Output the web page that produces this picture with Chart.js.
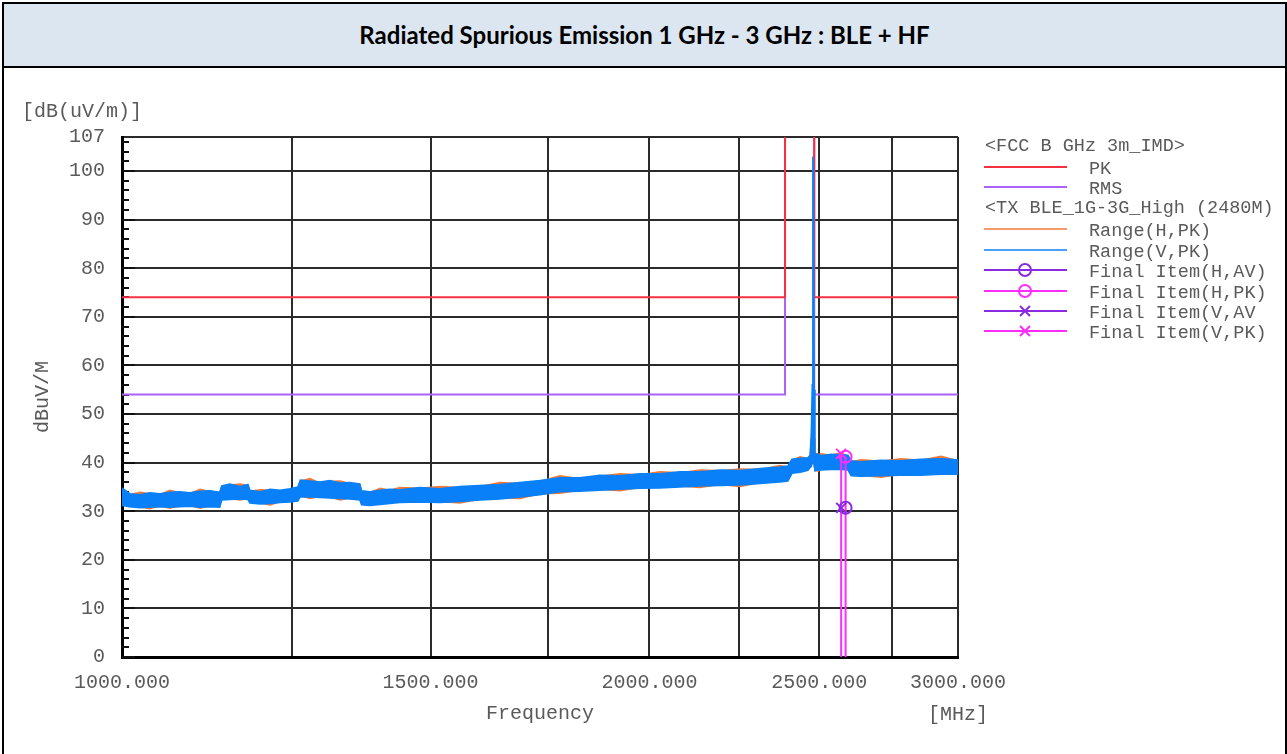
<!DOCTYPE html>
<html>
<head>
<meta charset="utf-8">
<script src="https://cdn.jsdelivr.net/npm/chart.js@4.4.1/dist/chart.umd.min.js"></script>
<style>
  html, body { margin:0; padding:0; width:1287px; height:754px; overflow:hidden; background:#fff; }
  #frame { position:absolute; left:2px; top:2px; width:1281px; height:800px; border:2px solid #000; }
  #title { height:62px; background:#dce6f1; border-bottom:2px solid #000; text-align:center;
           font-family:'Lato', 'Open Sans', sans-serif; font-weight:700; font-size:24px; line-height:62px; color:#000; }
  #c { position:absolute; left:0; top:0; z-index:2; }
</style>
</head>
<body>
<div id="frame"><div id="title">Radiated Spurious Emission 1 GHz - 3 GHz : BLE + HF</div></div>
<canvas id="c" width="1287" height="754"></canvas>
<script>
// ---------- data ----------
const freqMHz = [1000,1010,1024,1037,1051,1065,1079,1093,1108,1123,1137,1140,1152,1168,1180,1183,1199,1215,1231,1247,
  1260,1264,1280,1297,1314,1332,1349,1367,1370,1385,1404,1422,1441,1479,1519,1559,1601,1643,1687,1732,
  1778,1825,1874,1924,1975,2028,2082,2137,2194,2253,2313,2374,2399,2412,2438,2463,2470,2474,2477,2479,
  2481,2483,2486,2496,2506,2539,2573,2596,2607,2641,2711,2783,2857,2934,3000];
// Range (V,PK) trace: upper / lower edge of the trace band
const rangeVPkHigh = [34.8,33.6,33.4,33.8,33.6,33.9,34.0,33.8,34.1,34.2,33.9,35.2,35.6,35.1,35.5,34.3,34.0,34.5,34.3,34.6,
  35.0,36.4,36.2,36.0,36.3,35.8,35.9,35.6,34.2,34.0,34.3,34.5,34.4,34.9,34.6,35.1,35.3,35.5,35.9,36.3,
  36.9,36.9,37.4,37.3,37.7,37.7,38.1,38.1,38.5,38.4,38.8,39.1,39.3,40.7,40.9,41.0,41.5,46.0,56.0,103.0,
  100.0,55.0,41.6,41.8,41.4,41.7,41.6,41.5,40.4,40.2,40.5,40.4,40.7,40.8,40.6];
const rangeVPkLow = [31.2,30.9,30.7,30.8,30.9,30.8,30.9,31.0,30.8,30.9,30.8,32.3,32.4,32.5,32.4,31.7,31.5,31.6,31.8,31.9,
  32.1,33.0,32.9,32.8,32.7,32.6,32.5,32.3,31.3,31.2,31.4,31.6,31.8,31.9,31.8,32.0,32.3,32.5,32.9,33.4,
  34.0,34.1,34.3,34.5,34.7,34.8,35.0,35.2,35.3,35.4,35.7,36.0,36.2,37.8,38.0,38.4,39.0,39.2,40.0,44.0,
  43.0,39.5,38.3,38.5,38.5,38.6,38.6,38.5,37.3,37.2,37.3,37.4,37.4,37.6,37.6];
// Range (H,PK) trace: mostly hidden under V, pokes out in a few places
const rangeHPkHigh = [34.6,33.4,33.9,33.6,33.4,34.3,33.8,33.6,34.5,34.0,33.7,35.0,35.4,35.6,35.3,34.1,34.4,34.3,34.1,34.4,
  34.8,36.2,36.7,35.8,36.1,36.2,35.7,35.4,34.0,33.8,34.7,34.3,34.9,34.7,35.1,34.9,35.1,35.9,35.7,36.1,
  37.3,36.7,37.2,37.7,37.5,38.1,37.9,38.5,38.3,38.7,38.6,39.4,39.1,40.5,41.2,40.8,41.3,44.0,50.0,52.0,
  50.0,45.0,42.0,41.6,41.8,41.5,42.0,41.3,40.2,40.6,40.3,40.8,40.5,41.3,40.4];
const rangeHPkLow = [31.4,31.1,30.9,30.5,31.1,30.6,31.1,31.2,30.6,31.1,31.0,32.5,32.6,32.3,32.6,31.9,31.7,31.3,32.0,32.1,
  32.3,33.2,32.6,33.0,32.9,32.3,32.7,32.5,31.5,31.4,31.6,31.8,32.0,32.1,32.0,31.7,32.5,32.7,32.6,33.6,
  33.7,34.3,34.5,34.2,34.9,35.0,35.2,34.9,35.5,35.1,35.9,36.2,36.4,38.0,38.2,38.6,39.2,39.4,40.2,44.0,
  43.0,39.7,38.5,38.2,38.7,38.8,38.8,38.7,37.5,37.4,37.0,37.6,37.6,37.8,37.8];
// FCC limit lines (band 2390 - 2483.5 MHz goes off the top of the chart)
const limitFreq = [1000, 2390, 2390, 2483.5, 2483.5, 3000];
const limitPk   = [74, 74, 130, 130, 74, 74];
const limitRms  = [54, 54, 130, 130, 54, 54];
// final items
const finalHFreq = 2588, finalHAv = 30.7, finalHPk = 41.2;
const finalVFreq = 2573, finalVAv = 30.7, finalVPk = 41.8;
// axes
const xGridValues = [1000,1250,1500,1750,2000,2250,2500,2750,3000];
const xLabelValues = [1000,1500,2000,2500,3000];
const xLabelTexts = ['1000.000','1500.000','2000.000','2500.000','3000.000'];
const yTickValues = [0,10,20,30,40,50,60,70,80,90,100,107];
const legendRows = [
  {kind:'head', text:'<FCC B GHz 3m_IMD>'},
  {kind:'line', text:'PK', key:'pk'},
  {kind:'line', text:'RMS', key:'rms'},
  {kind:'head', text:'<TX BLE_1G-3G_High (2480M)'},
  {kind:'line', text:'Range(H,PK)', key:'h'},
  {kind:'line', text:'Range(V,PK)', key:'v'},
  {kind:'line', text:'Final Item(H,AV)', key:'hav'},
  {kind:'line', text:'Final Item(H,PK)', key:'hpk'},
  {kind:'line', text:'Final Item(V,AV', key:'vav'},
  {kind:'line', text:'Final Item(V,PK)', key:'vpk'}
];

// ---------- styles ----------
const C = { pk:'#f5303f', rms:'#aa62f8', h:'#f27a38', v:'#0a80f8', av:'#8a2be2', fpk:'#ff2cff' };
const styleByKey = {
  pk:{color:C.pk}, rms:{color:C.rms}, h:{color:C.h}, v:{color:C.v},
  hav:{color:C.av, marker:'circle'}, hpk:{color:C.fpk, marker:'circle'},
  vav:{color:C.av, marker:'crossRot'}, vpk:{color:C.fpk, marker:'crossRot'}
};
const textColor = '#5a5a5a';
const monoFont = "'Liberation Mono', 'DejaVu Sans Mono', monospace";

const pts = (xs, ys) => xs.map((x, i) => ({x, y: ys[i]}));
const flat = {pointRadius:0, pointHoverRadius:0, tension:0};

const datasets = [
  // 0,1 : final PK items with stems
  {label:'Final Item(V,PK)', data:[{x:finalVFreq,y:finalVPk},{x:finalVFreq,y:0}], borderColor:C.fpk, borderWidth:2,
   pointStyle:'crossRot', pointRadius:[7,0], pointBorderColor:C.fpk, pointBorderWidth:2, pointBackgroundColor:'rgba(0,0,0,0)', order:1},
  {label:'Final Item(H,PK)', data:[{x:finalHFreq,y:finalHPk},{x:finalHFreq,y:0}], borderColor:C.fpk, borderWidth:2,
   pointStyle:'circle', pointRadius:[6,0], pointBorderColor:C.fpk, pointBorderWidth:2, pointBackgroundColor:'rgba(0,0,0,0)', order:1},
  // 2,3 : final AV items
  {label:'Final Item(V,AV)', data:[{x:finalVFreq,y:finalVAv}], showLine:false, borderColor:C.av,
   pointStyle:'crossRot', pointRadius:7, pointBorderColor:C.av, pointBorderWidth:2, pointBackgroundColor:'rgba(0,0,0,0)', order:0},
  {label:'Final Item(H,AV)', data:[{x:finalHFreq,y:finalHAv}], showLine:false, borderColor:C.av,
   pointStyle:'circle', pointRadius:6, pointBorderColor:C.av, pointBorderWidth:2, pointBackgroundColor:'rgba(0,0,0,0)', order:0},
  // 4,5 : V band
  {label:'Range(V,PK) low', data:pts(freqMHz, rangeVPkLow), borderColor:C.v, borderWidth:1.5, fill:false, ...flat, order:2},
  {label:'Range(V,PK)', data:pts(freqMHz, rangeVPkHigh), borderColor:C.v, backgroundColor:C.v, borderWidth:1.5, fill:4, ...flat, order:2},
  // 6,7 : H band
  {label:'Range(H,PK) low', data:pts(freqMHz, rangeHPkLow), borderColor:C.h, borderWidth:1.5, fill:false, ...flat, order:3},
  {label:'Range(H,PK)', data:pts(freqMHz, rangeHPkHigh), borderColor:C.h, backgroundColor:C.h, borderWidth:1.5, fill:6, ...flat, order:3},
  // 8,9 : limits
  {label:'PK', data:pts(limitFreq, limitPk), borderColor:C.pk, borderWidth:2, fill:false, ...flat, order:4},
  {label:'RMS', data:pts(limitFreq, limitRms), borderColor:C.rms, borderWidth:2, fill:false, ...flat, order:5}
];

const decorPlugin = {
  id:'decor',
  beforeDatasetsDraw(chart) {
    const ctx = chart.ctx, a = chart.chartArea, y = chart.scales.y;
    ctx.save();
    ctx.strokeStyle = '#111'; ctx.lineWidth = 2;
    for (let v = 0; v <= 106; v += 2) {
      const py = Math.round(y.getPixelForValue(v));
      const len = (v % 10 === 0) ? 13 : 7;
      ctx.beginPath(); ctx.moveTo(a.left, py); ctx.lineTo(a.left + len, py); ctx.stroke();
    }
    ctx.restore();
  },
  afterDraw(chart) {
    const ctx = chart.ctx, a = chart.chartArea;
    ctx.save();
    ctx.fillStyle = textColor;
    ctx.font = "20px " + monoFont;
    ctx.textBaseline = 'middle';
    ctx.textAlign = 'left';
    ctx.fillText('[dB(uV/m)]', 22, 112);
    ctx.textAlign = 'center';
    ctx.fillText('Frequency', (a.left + a.right) / 2, 714);
    ctx.fillText('[MHz]', 958, 715);
    ctx.save();
    ctx.translate(43, (a.top + a.bottom) / 2);
    ctx.rotate(-Math.PI / 2);
    ctx.fillText('dBuV/M', 0, 0);
    ctx.restore();
    // legend
    const rowY = [145, 167, 187, 207, 229, 250, 270, 291, 311, 331];
    ctx.font = "18.5px " + monoFont;
    ctx.textAlign = 'left';
    legendRows.forEach((r, i) => {
      const yy = rowY[i];
      ctx.fillStyle = textColor;
      if (r.kind === 'head') { ctx.fillText(r.text, 985, yy + 1); return; }
      ctx.fillText(r.text, 1089, yy + 2);
      const st = styleByKey[r.key];
      ctx.strokeStyle = st.color; ctx.lineWidth = (r.key === 'h' || r.key === 'v') ? 1.5 : 2;
      ctx.beginPath(); ctx.moveTo(984, yy); ctx.lineTo(1067, yy); ctx.stroke();
      if (st.marker) {
        ctx.lineWidth = 2;
        ctx.fillStyle = 'rgba(0,0,0,0)';
        Chart.helpers.drawPoint(ctx, {pointStyle: st.marker, radius: st.marker === 'circle' ? 6 : 7, rotation: 0, borderWidth: 2}, 1025, yy);
      }
    });
    ctx.restore();
  }
};

new Chart(document.getElementById('c'), {
  type:'line',
  data:{ datasets },
  options:{
    responsive:false, animation:false, devicePixelRatio:1,
    layout:{ padding:{ left:0, top:137, right:329, bottom:0 } },
    plugins:{ legend:{display:false}, tooltip:{enabled:false}, title:{display:false} },
    scales:{
      x:{
        type:'logarithmic', min:1000, max:3000,
        afterBuildTicks: s => { s.ticks = xGridValues.map(v => ({value:v})); },
        afterFit: s => { s.height = 97; },
        ticks:{ autoSkip:false, maxRotation:0, minRotation:0, padding:14, color:textColor,
                font:{ family:monoFont, size:20 },
                callback:(v) => { const i = xLabelValues.indexOf(v); return i >= 0 ? xLabelTexts[i] : ''; } },
        grid:{ color:'#2a2a2a', lineWidth:2, drawTicks:false },
        border:{ color:'#000', width:3 }
      },
      y:{
        type:'linear', min:0, max:107,
        afterBuildTicks: s => { s.ticks = yTickValues.map(v => ({value:v})); },
        afterFit: s => { s.width = 122; },
        ticks:{ autoSkip:false, padding:17, color:textColor, font:{ family:monoFont, size:20 } },
        grid:{ color:'#2a2a2a', lineWidth:2, drawTicks:false },
        border:{ color:'#000', width:3 }
      }
    }
  },
  plugins:[decorPlugin]
});
</script>
</body>
</html>
